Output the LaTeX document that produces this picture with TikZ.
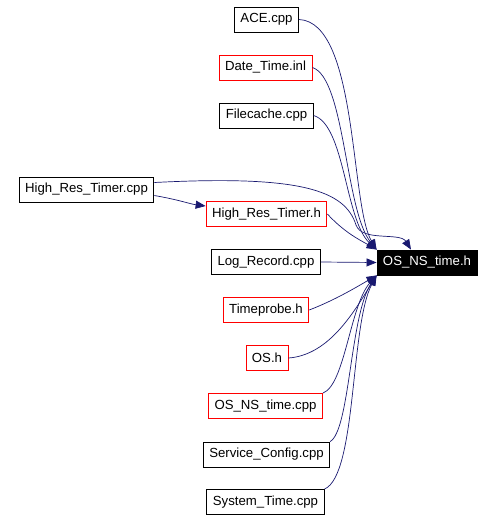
\documentclass[tikz,border=0pt]{standalone}
\usepackage{fontspec}
\setmainfont{Liberation Sans}
\usetikzlibrary{arrows.meta}
\definecolor{edgeblue}{HTML}{191970}
\begin{document}
\begin{tikzpicture}[
    x=1pt, y=-1pt,
    every node/.style={font=\fontsize{13.2}{15}\selectfont},
    filebox/.style={draw=black, line width=0.9pt, minimum height=25pt, inner xsep=6pt, inner ysep=0pt},
    redbox/.style={filebox, draw=red},
    headbox/.style={filebox, fill=black, text=white},
    dep/.style={draw=edgeblue, line width=0.7pt, -{Triangle[length=10pt,width=8pt]}},
]
    \useasboundingbox (0,0) rectangle (494,520);

    \node[filebox] (ace) at (266.5, 19.5) {ACE.cpp};
    \node[redbox] (datetime) at (265.5, 67.5) {Date\_Time.inl};
    \node[filebox] (filecache) at (266.5, 115.5) {Filecache.cpp};
    \node[filebox] (hrtcpp) at (86.5, 189.5) {High\_Res\_Timer.cpp};
    \node[redbox] (hrth) at (266.5, 214) {High\_Res\_Timer.h};
    \node[filebox] (logrec) at (266, 262) {Log\_Record.cpp};
    \node[redbox] (timeprobe) at (266, 310) {Timeprobe.h};
    \node[redbox] (osh) at (267, 358) {OS.h};
    \node[redbox] (oscpp) at (265.5, 406) {OS\_NS\_time.cpp};
    \node[filebox] (svcconf) at (266.5, 454.5) {Service\_Config.cpp};
    \node[filebox] (systime) at (265.5, 502) {System\_Time.cpp};

    \node[headbox] (nstime) at (427, 262.5) {OS\_NS\_time.h};

    % edges from above
    \draw[dep] (ace.east) .. controls (358,22) and (350,205) .. (nstime.north west);
    \draw[dep] (datetime.east) .. controls (345,78) and (345,210) .. (nstime.north west);
    \draw[dep] (filecache.east) .. controls (345,125) and (345,220) .. (nstime.north west);
    \draw[dep] (hrth.east) .. controls (345,233) and (360,240) .. (nstime.north west);
    \draw[dep] ([yshift=7pt]hrtcpp.east) .. controls (300,175) and (345,190) .. (356,225)
        .. controls (362,242) and (400,232) .. ([xshift=-16pt]nstime.north);
    \draw[dep] ([yshift=-6pt]hrtcpp.east) .. controls (180,200) and (190,204) .. ([yshift=8pt]hrth.west);

    % edge straight across
    \draw[dep] (logrec.east) -- (nstime.west);

    % edges from below
    \draw[dep] (timeprobe.east) .. controls (335,300) and (355,288) .. (nstime.south west);
    \draw[dep] (osh.east) .. controls (330,355) and (355,310) .. (nstime.south west);
    \draw[dep] (oscpp.north east) .. controls (345,385) and (350,305) .. (nstime.south west);
    \draw[dep] (svcconf.north east) .. controls (350,430) and (350,315) .. (nstime.south west);
    \draw[dep] (systime.north east) .. controls (357,475) and (350,325) .. (nstime.south west);

\end{tikzpicture}
\end{document}
